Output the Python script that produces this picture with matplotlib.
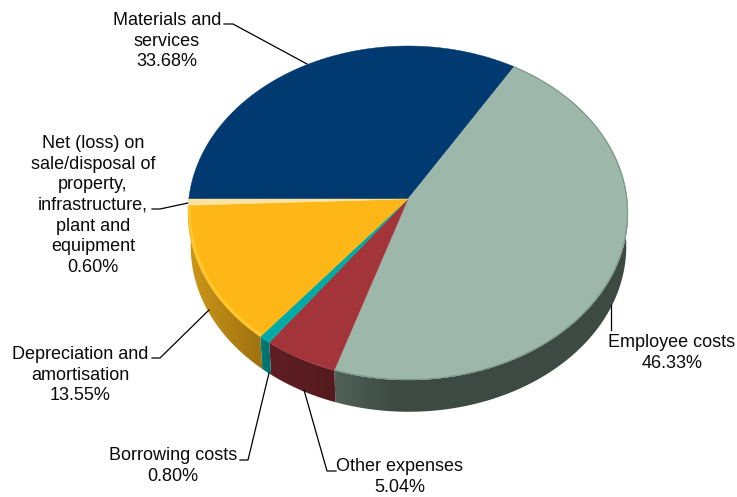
import numpy as np
import matplotlib
matplotlib.use("Agg")
import matplotlib.pyplot as plt
from matplotlib.colors import LinearSegmentedColormap

plt.rcParams['font.family'] = ['Liberation Sans', 'DejaVu Sans']

# Shares of total expenses, clockwise from the 9 o'clock position
categories = ["Materials and\nservices", "Employee costs", "Other expenses", "Borrowing costs",
              "Depreciation and\namortisation",
              "Net (loss) on\nsale/disposal of\nproperty,\ninfrastructure,\nplant and\nequipment"]
shares = [33.68, 46.33, 5.04, 0.80, 13.55, 0.60]
top_colors = ["#003A70", "#9DB8AA", "#A3343A", "#00ABA5", "#FFB717", "#FCE3A0"]
# Wall shading per slice: left colour, right colour, pixel range of the ramp
wall_ramps = [None,
              ("#50615A", "#3C4A43", 336, 395),
              ("#601F24", "#541A1E", 271, 336),
              ("#007B76", "#00706B", 262, 271),
              ("#CC9618", "#9E7110", 190, 262),
              ("#D8C080", "#D8C080", 188, 192)]

# Projected pie geometry, in pixels
APEX_X, APEX_Y = 408.0, 199.0
SCALE_X, SCALE_Y, TILT = 219.2, 165.8, 0.0837
RIM_CX, RIM_CY = 408.0, 213.0
BASE_CX, BASE_CY, BASE_SCALE = 408.5, 246.5, 0.99


def project(angle_deg, radius=1.0):
    t = np.radians(angle_deg)
    u, v = radius * np.cos(t), radius * np.sin(t)
    d = 1 + TILT * v
    return APEX_X + SCALE_X * u / d, APEX_Y - SCALE_Y * v / d


def to_base(x, y):
    return BASE_CX + (x - RIM_CX) * BASE_SCALE, BASE_CY + (y - RIM_CY) * BASE_SCALE


fig = plt.figure(figsize=(7.37, 4.97), dpi=100)
ax = fig.add_axes([0, 0, 1, 1])
ax.axis("off")

edges = 180 - np.cumsum([0] + shares) * 3.6

# Side wall: a horizontal colour ramp clipped to each slice's outer face
for i, ramp in enumerate(wall_ramps):
    if ramp is None:
        continue
    c0, c1, x0, x1 = ramp
    a = np.linspace(edges[i], edges[i + 1], 200)
    x, y = project(a)
    bx, by = to_base(x, y)
    cmap = LinearSegmentedColormap.from_list("wall", [c0, c1])
    # the ramp holds its right colour across the remainder of the slice
    right = max(x1, x.max(), bx.max()) + 2
    left = min(x0, x.min(), bx.min()) - 2
    xs = np.linspace(left, right, 600)
    grad = np.clip((xs - x0) / max(x1 - x0, 1), 0, 1)[None, :]
    im = ax.imshow(grad, cmap=cmap, vmin=0, vmax=1, aspect="auto", zorder=1,
                   extent=(left, right, by.max() + 2, y.min() - 2), interpolation="bilinear")
    poly = ax.fill(np.r_[x, bx[::-1]], np.r_[y, by[::-1]], facecolor="none", edgecolor="none")[0]
    im.set_clip_path(poly)

ax.set_xlim(0, 737)
ax.set_ylim(497, 0)

# Top surface
for i in range(len(shares)):
    a = np.linspace(edges[i], edges[i + 1], 200)
    x, y = project(a)
    ax.fill(np.r_[APEX_X, x], np.r_[APEX_Y, y], facecolor=top_colors[i],
            edgecolor=top_colors[i], linewidth=0.3, zorder=3)

# Soft bevel along the rim of the yellow and green slices
a = np.linspace(edges[4], edges[5], 120)
x, y = project(a, 0.992)
ax.plot(x, y, color="#FFCB30", lw=1.6, zorder=4, solid_capstyle="butt")
a = np.linspace(edges[1], edges[2], 300)
x, y = project(a, 0.998)
ax.plot(x, y, color="#7F9A8D", lw=0.8, zorder=4, solid_capstyle="butt")

# Leader lines
leaders = [
    ([224, 233, 307], [24, 24, 64]),
    ([611, 611], [305, 330]),
    ([336, 327, 304], [471, 471, 390]),
    ([240, 248, 269], [460, 460, 373]),
    ([152, 160, 209], [358, 358, 310]),
    ([152, 160, 188], [209, 209, 203]),
]
for lx, ly in leaders:
    ax.plot(lx, ly, color="black", lw=0.9, zorder=2, solid_joinstyle="miter")

# Labels with their percentages
label_pos = [(167, 41), (672, 353), (400, 477), (173, 466), (80, 375), (93, 205.5)]
for name, share, (tx, ty) in zip(categories, shares, label_pos):
    ax.text(tx, ty, f"{name}\n{share:.2f}%", ha="center", va="center", fontsize=13,
            color="#0a0a0a", linespacing=1.27, zorder=6)

fig.savefig("out.png", dpi=100)
